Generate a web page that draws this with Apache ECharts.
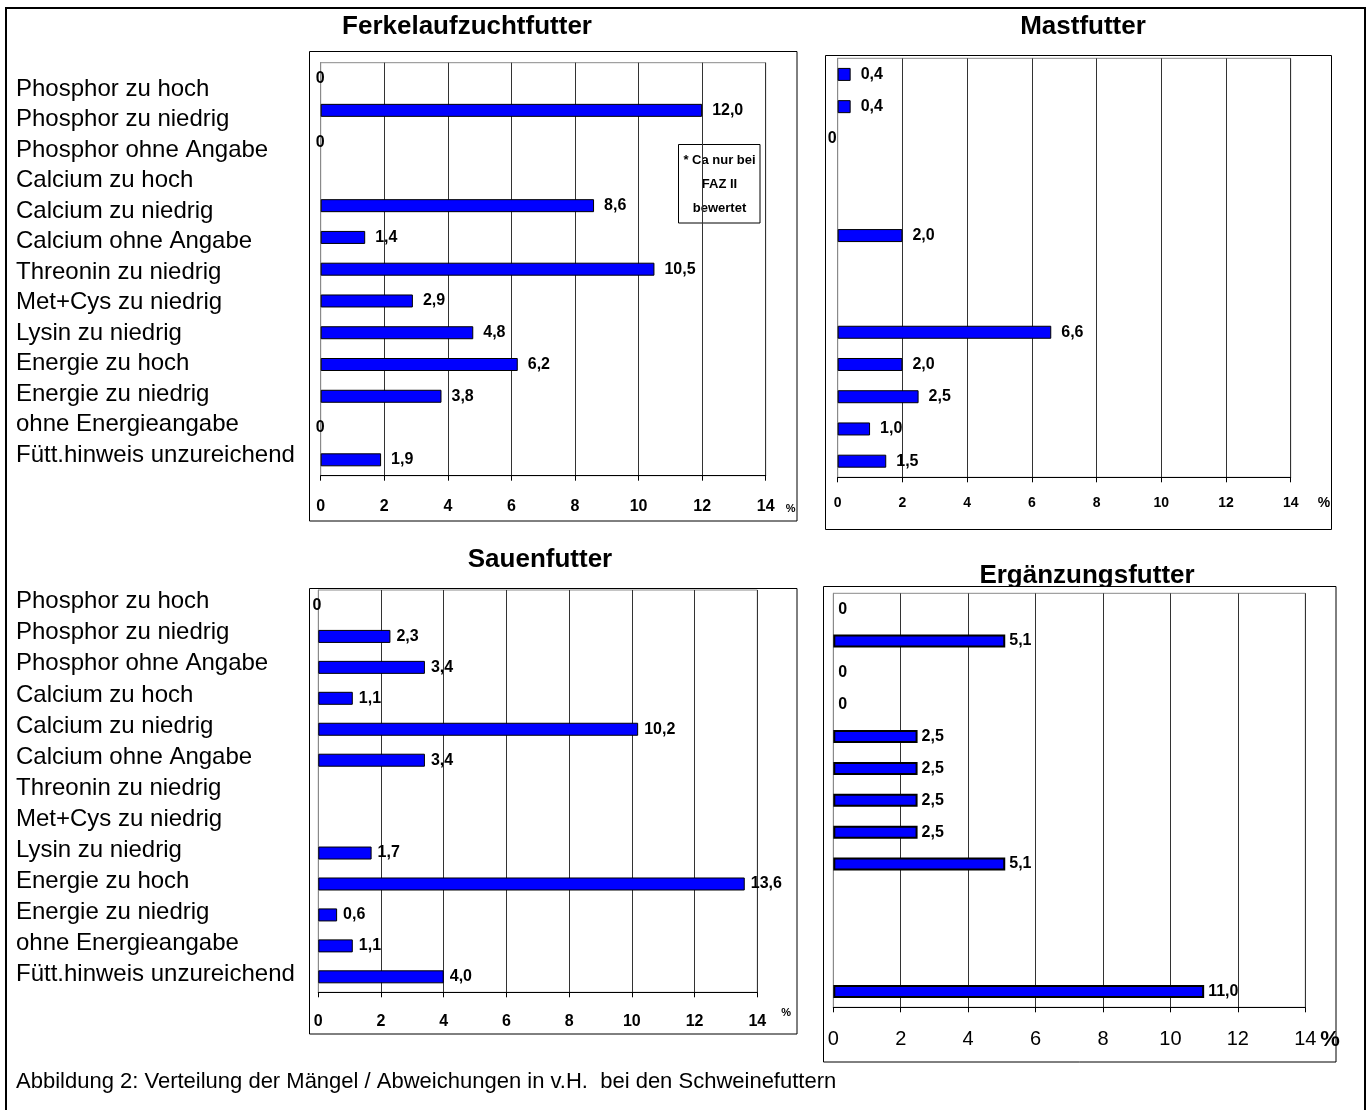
<!DOCTYPE html>
<html>
<head>
<meta charset="utf-8">
<script src="https://cdn.jsdelivr.net/npm/echarts@6/dist/echarts.min.js"></script>
<style>
  html, body { margin: 0; padding: 0; background: #fff; }
  #chart { width: 1369px; height: 1110px; }
</style>
</head>
<body>
<div id="chart"></div>
<script>
// Mängelkategorien (gleiche Reihenfolge in allen vier Diagrammen)
const categories = [
  'Phosphor zu hoch', 'Phosphor zu niedrig', 'Phosphor ohne Angabe',
  'Calcium zu hoch', 'Calcium zu niedrig', 'Calcium ohne Angabe',
  'Threonin zu niedrig', 'Met+Cys zu niedrig', 'Lysin zu niedrig',
  'Energie zu hoch', 'Energie zu niedrig', 'ohne Energieangabe',
  'Fütt.hinweis unzureichend'
];

// Anteile in v.H.; null = nicht bewertet / keine Angabe im Diagramm
const ferkelaufzucht = [0, 12.0, 0, null, 8.6, 1.4, 10.5, 2.9, 4.8, 6.2, 3.8, 0, 1.9];
const mast           = [0.4, 0.4, 0, null, null, 2.0, null, null, 6.6, 2.0, 2.5, 1.0, 1.5];
const sauen          = [0, 2.3, 3.4, 1.1, 10.2, 3.4, null, null, 1.7, 13.6, 0.6, 1.1, 4.0];
const ergaenzung     = [0, 5.1, 0, 0, 2.5, 2.5, 2.5, 2.5, 5.1, null, null, null, 11.0];

const titles = ['Ferkelaufzuchtfutter', 'Mastfutter', 'Sauenfutter', 'Ergänzungsfutter'];
const xTicks = { min: 0, max: 14, interval: 2 };
const noteLines = ['* Ca nur bei', 'FAZ II', 'bewertet'];
const caption = 'Abbildung 2: Verteilung der Mängel / Abweichungen in v.H.  bei den Schweinefuttern';

const NARROW = "'Liberation Sans Narrow','Arial Narrow',Arial,'Liberation Sans',sans-serif";
const SANS = "Arial,'Liberation Sans',sans-serif";

// Layout der vier Teildiagramme
const panels = [
  { data: ferkelaufzucht, grid: { left: 320.7, top: 62.7, width: 445, height: 413 },
    box: [309.5, 51.5, 487.5, 469.5], title: [467, 27],
    tickFont: { fontSize: 16, fontWeight: 'bold' }, tickMargin: 23, valueGap: 10,
    pct: { gap: 20, pad: 28, size: 11 }, zero: { position: 'left', distance: -4 }, border: 1 },
  { data: mast, grid: { left: 837.7, top: 58.3, width: 453, height: 419 },
    box: [825.5, 55.5, 506, 474], title: [1083, 27],
    tickFont: { fontSize: 14, fontWeight: 'bold' }, tickMargin: 19, valueGap: 10,
    pct: { gap: 27, pad: 19, size: 14 }, zero: { position: 'left', distance: 1 }, border: 1 },
  { data: sauen, grid: { left: 318.3, top: 590, width: 439, height: 402.3 },
    box: [309.5, 588.5, 487.5, 445.5], title: [540, 560],
    tickFont: { fontSize: 16, fontWeight: 'bold' }, tickMargin: 21, valueGap: 6,
    pct: { gap: 24, pad: 15, size: 11 }, zero: { position: 'left', distance: -3 }, border: 1 },
  { data: ergaenzung, grid: { left: 833.3, top: 593.3, width: 472, height: 414 },
    box: [823.5, 586.5, 512.5, 475.5], title: [1087, 576],
    tickFont: { fontSize: 20, fontWeight: 'normal' }, tickMargin: 22, valueGap: 4,
    pct: { gap: 12, pad: 22, size: 22 }, zero: { position: 'right', distance: 5 }, border: 2 }
];

function fmt(v) {
  return v === 0 ? '0' : v.toFixed(1).replace('.', ',');
}

const grid = [], xAxis = [], yAxis = [], series = [], graphic = [];

panels.forEach((p, i) => {
  grid.push(Object.assign({ show: true, borderColor: '#8a8a8a', borderWidth: 1 }, p.grid));
  xAxis.push({
    type: 'value', gridIndex: i, min: xTicks.min, max: xTicks.max, interval: xTicks.interval,
    axisLine: { show: true, lineStyle: { color: '#000', width: 1 } },
    axisTick: { show: true, length: 5, lineStyle: { color: '#000' } },
    splitLine: { show: true, lineStyle: { color: '#333', width: 1 } },
    axisLabel: Object.assign({ color: '#000', fontFamily: NARROW, margin: p.tickMargin }, p.tickFont),
    name: '%', nameLocation: 'end', nameGap: p.pct.gap,
    nameTextStyle: { color: '#000', fontFamily: NARROW, fontWeight: 'bold', fontSize: p.pct.size,
      verticalAlign: 'top', padding: [p.pct.pad, 0, 0, 0] }
  });
  yAxis.push({
    type: 'category', gridIndex: i, data: categories, inverse: true,
    axisLine: { show: true, lineStyle: { color: '#8a8a8a' } },
    axisTick: { show: false }, axisLabel: { show: false }, splitLine: { show: false }
  });
  series.push({
    type: 'bar', xAxisIndex: i, yAxisIndex: i, barWidth: 13,
    itemStyle: { color: '#0000ff', borderColor: '#000', borderWidth: p.border },
    label: {
      show: true, position: 'right', distance: p.valueGap, color: '#000',
      fontFamily: NARROW, fontWeight: 'bold', fontSize: 16,
      formatter: (d) => fmt(d.value)
    },
    // Nullwerte: kein Balkenrand, nur die Beschriftung "0"
    data: p.data.map(v => v === 0
      ? { value: 0, label: p.zero, itemStyle: { borderWidth: 0 } }
      : v)
  });
  // Rahmen um das Teildiagramm (weiß gefüllt, liegt hinter den Achsen)
  graphic.push({
    type: 'rect', z: -1, silent: true,
    shape: { x: p.box[0], y: p.box[1], width: p.box[2], height: p.box[3] },
    style: { fill: '#fff', stroke: '#000', lineWidth: 1 }
  });
  graphic.push({
    type: 'text', z: -2, silent: true, x: p.title[0], y: p.title[1],
    style: { text: titles[i], fill: '#000', font: 'bold 26px ' + SANS,
      textAlign: 'center', textVerticalAlign: 'middle' }
  });
});

// Beschriftungsspalten links (eigene Raster ohne Balken)
[[73.75, 396.5], [586.1, 404.3]].forEach(([top, height]) => {
  const gi = grid.length;
  grid.push({ left: 6, top: top, width: 1, height: height });
  xAxis.push({ type: 'value', gridIndex: gi, show: false });
  yAxis.push({
    type: 'category', gridIndex: gi, data: categories, inverse: true, position: 'right',
    axisLine: { show: false }, axisTick: { show: false }, splitLine: { show: false },
    axisLabel: { show: true, interval: 0, margin: 9, color: '#000', fontFamily: SANS, fontSize: 24 }
  });
});

// Hinweiskasten im Ferkelaufzuchtdiagramm
graphic.push({
  type: 'group', z: 10, silent: true, x: 678.5, y: 144.5,
  children: [
    { type: 'rect', shape: { x: 0, y: 0, width: 81.5, height: 78.5 },
      style: { fill: '#fff', stroke: '#000', lineWidth: 1 } },
    ...noteLines.map((t, j) => ({
      type: 'text', x: 41, y: 16 + j * 24,
      style: { text: t, fill: '#000', font: 'bold 13px ' + NARROW,
        textAlign: 'center', textVerticalAlign: 'middle' }
    }))
  ]
});

// Gesamtrahmen und Bildunterschrift
graphic.push({
  type: 'rect', z: -3, silent: true,
  shape: { x: 6, y: 8, width: 1359, height: 1120 },
  style: { fill: '#fff', stroke: '#000', lineWidth: 2 }
});
graphic.push({
  type: 'text', silent: true, x: 16, y: 1082,
  style: { text: caption, fill: '#000', font: '22px ' + SANS, textVerticalAlign: 'middle' }
});

const chart = echarts.init(document.getElementById('chart'), null, { renderer: 'canvas' });
chart.setOption({
  animation: false,
  backgroundColor: '#fff',
  grid: grid, xAxis: xAxis, yAxis: yAxis, series: series, graphic: graphic
});
</script>
</body>
</html>
